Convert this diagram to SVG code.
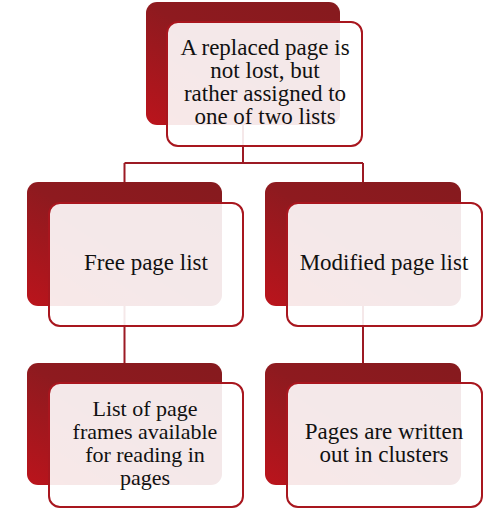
<svg xmlns="http://www.w3.org/2000/svg" width="496" height="516" viewBox="0 0 496 516">
<defs>
<linearGradient id="bg" x1="1" y1="0" x2="0" y2="1">
<stop offset="0" stop-color="#861a1e"/>
<stop offset="0.5" stop-color="#8e1a1f"/>
<stop offset="1" stop-color="#bb141c"/>
</linearGradient>
<style>
.back{fill:url(#bg)}
.front{fill:#ffffff;fill-opacity:0.9;stroke:#a8161e;stroke-width:2}
.conn{fill:none;stroke:#9c1a24;stroke-width:2}
.t{font-family:"Liberation Serif",serif;font-size:23px;fill:#111111;text-anchor:middle}
.s{font-size:22px}
</style>
</defs>
<rect width="496" height="516" fill="#ffffff"/>
<g id="connectors">
<path class="conn" d="M243,125 V163 M124.5,163 H363 M124.5,163 V182 M363,163 V182 M124.5,306 V363 M363,306 V363"/>
</g>
<g id="node-top">
<rect class="back" x="146" y="2" width="194" height="123" rx="11"/>
<rect class="front" x="167" y="22" width="195" height="124" rx="11"/>
<text class="t" x="265" y="55">A replaced page is</text>
<text class="t" x="265" y="78">not lost, but</text>
<text class="t" x="265" y="101">rather assigned to</text>
<text class="t" x="265" y="124">one of two lists</text>
</g>
<g id="node-free">
<rect class="back" x="27" y="182" width="195" height="124" rx="11"/>
<rect class="front" x="49" y="203" width="194" height="123" rx="11"/>
<text class="t" x="146" y="270">Free page list</text>
</g>
<g id="node-modified">
<rect class="back" x="265" y="182" width="196" height="124" rx="11"/>
<rect class="front" x="287" y="203" width="195" height="123" rx="11"/>
<text class="t" x="384" y="270">Modified page list</text>
</g>
<g id="node-free-detail">
<rect class="back" x="27" y="363" width="195" height="122" rx="11"/>
<rect class="front" x="49" y="383" width="194" height="124" rx="11"/>
<text class="t s" x="145" y="416">List of page</text>
<text class="t s" x="145" y="439">frames available</text>
<text class="t s" x="145" y="462">for reading in</text>
<text class="t s" x="145" y="485">pages</text>
</g>
<g id="node-modified-detail">
<rect class="back" x="265" y="363" width="196" height="122" rx="11"/>
<rect class="front" x="287" y="383" width="195" height="124" rx="11"/>
<text class="t" x="384" y="439">Pages are  written</text>
<text class="t" x="384" y="462">out in clusters</text>
</g>
</svg>
